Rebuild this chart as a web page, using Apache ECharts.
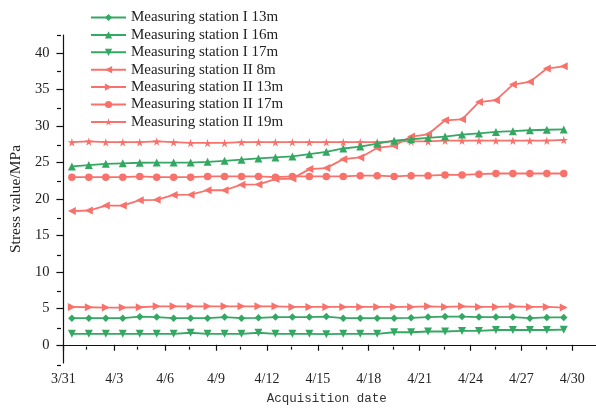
<!DOCTYPE html>
<html><head><meta charset="utf-8">
<script src="https://cdn.jsdelivr.net/npm/echarts@6/dist/echarts.min.js"></script>
<style>html,body{margin:0;padding:0;background:#fff}#c{width:596px;height:410px}</style>
</head><body><div id="c"></div>
<script>
// Day offsets from 3/31 of each acquisition
const xDays = [0.5,1.5,2.5,3.5,4.5,5.5,6.5,7.5,8.5,9.5,10.5,11.5,12.5,13.5,14.5,15.5,16.5,17.5,18.5,19.5,20.5,21.5,22.5,23.5,24.5,25.5,26.5,27.5,28.5,29.5];
const xTickDays = [0,3,6,9,12,15,18,21,24,27,30];
const xTickLabels = ['3/31','4/3','4/6','4/9','4/12','4/15','4/18','4/21','4/24','4/27','4/30'];
const xMinorDays = [1.5,4.5,7.5,10.5,13.5,16.5,19.5,22.5,25.5,28.5];
const yTicks = [0,5,10,15,20,25,30,35,40];
const yMinor = [-2.5,2.5,7.5,12.5,17.5,22.5,27.5,32.5,37.5,42.5];

const seriesNames = ['Measuring station I 13m','Measuring station I 16m','Measuring station I 17m','Measuring station II 8m','Measuring station II 13m','Measuring station II 17m','Measuring station II 19m'];
const st1_13m = [3.65,3.65,3.65,3.65,3.85,3.8,3.65,3.65,3.65,3.8,3.65,3.7,3.8,3.8,3.8,3.87,3.65,3.65,3.65,3.65,3.7,3.8,3.87,3.87,3.8,3.8,3.8,3.65,3.75,3.75];
const st1_16m = [24.47,24.65,24.83,24.9,24.97,25.0,25.0,25.0,25.1,25.24,25.4,25.56,25.7,25.84,26.15,26.47,26.93,27.2,27.6,28.0,28.2,28.38,28.57,28.84,29.0,29.2,29.3,29.43,29.5,29.55];
const st1_17m = [1.5,1.5,1.5,1.5,1.5,1.5,1.5,1.65,1.5,1.5,1.5,1.65,1.5,1.5,1.5,1.45,1.5,1.5,1.5,1.72,1.72,1.82,1.82,1.9,1.9,2.03,2.03,2.03,2.03,2.07];
const st2_8m = [18.34,18.42,19.1,19.1,19.84,19.88,20.56,20.6,21.2,21.2,21.97,22.0,22.74,22.8,24.1,24.24,25.47,25.7,27.0,27.3,28.57,28.88,30.8,30.93,33.3,33.56,35.7,36.07,37.9,38.2];
const st2_13m = [5.2,5.15,5.1,5.1,5.15,5.28,5.28,5.28,5.28,5.28,5.28,5.28,5.28,5.2,5.2,5.2,5.2,5.2,5.2,5.2,5.2,5.28,5.2,5.28,5.2,5.2,5.28,5.2,5.2,5.1];
const st2_17m = [23.0,23.0,23.0,23.0,23.1,23.0,23.0,23.0,23.1,23.1,23.1,23.1,23.0,23.1,23.1,23.1,23.1,23.2,23.2,23.1,23.2,23.2,23.3,23.3,23.4,23.5,23.5,23.5,23.5,23.5];
const st2_19m = [27.8,27.9,27.8,27.8,27.8,27.9,27.8,27.7,27.7,27.7,27.8,27.8,27.8,27.8,27.8,27.8,27.8,27.8,27.8,27.9,27.9,27.9,28.0,28.0,28.0,28.0,28.0,28.0,28.0,28.1];

const GREEN = '#34a863', RED = '#f8716b';
const STAR = 'path://M50,0 L61,35 L98,35 L68,57 L79,91 L50,70 L21,91 L32,57 L2,35 L39,35 Z';
const styles = [
  {color: GREEN, symbol: 'diamond', rot: 0, size: 7.5},
  {color: GREEN, symbol: 'triangle', rot: 0, size: 8},
  {color: GREEN, symbol: 'triangle', rot: 180, size: 8},
  {color: RED, symbol: 'triangle', rot: 90, size: 8},
  {color: RED, symbol: 'triangle', rot: -90, size: 8},
  {color: RED, symbol: 'circle', rot: 0, size: 7.5},
  {color: RED, symbol: STAR, rot: 0, size: 8.5}
];
const values = [st1_13m, st1_16m, st1_17m, st2_8m, st2_13m, st2_17m, st2_19m];

const serif = 'Liberation Serif';
const grid = {left: 61, top: 35, width: 535, height: 330};
const X_MAX = 31.4, Y_MIN = -2.5, Y_MAX = 42.5;

const chart = echarts.init(document.getElementById('c'), null, {renderer: 'canvas'});
chart.setOption({
  animation: false,
  backgroundColor: '#fff',
  legend: {
    orient: 'vertical', left: 90, top: 10, padding: 0,
    itemWidth: 35, itemHeight: 9, itemGap: 2.4,
    textStyle: {fontFamily: serif, fontSize: 15, color: '#222', lineHeight: 15},
    data: seriesNames
  },
  grid: [Object.assign({}, grid), Object.assign({}, grid)],
  xAxis: [{
    type: 'value', gridIndex: 0, min: 0, max: X_MAX,
    name: 'Acquisition date', nameLocation: 'middle', nameGap: 29,
    nameTextStyle: {fontFamily: 'Liberation Mono', fontSize: 12.5, color: '#333', padding: [0, 6, 0, 0]},
    axisLine: {show: true, lineStyle: {color: '#111', width: 1.2}},
    axisTick: {show: true, length: 6, customValues: xTickDays, lineStyle: {color: '#111', width: 1.2}},
    axisLabel: {customValues: xTickDays, margin: 9, fontFamily: serif, fontSize: 14, color: '#222',
      formatter: v => { const i = xTickDays.indexOf(v); return i >= 0 ? xTickLabels[i] : ''; }},
    splitLine: {show: false}
  }, {
    type: 'value', gridIndex: 1, min: 0, max: X_MAX,
    axisLine: {show: false},
    axisTick: {show: true, length: 3, customValues: xMinorDays, lineStyle: {color: '#111', width: 1.2}},
    axisLabel: {show: false}, splitLine: {show: false}
  }],
  yAxis: [{
    type: 'value', gridIndex: 0, min: Y_MIN, max: Y_MAX,
    name: 'Stress value/MPa', nameLocation: 'middle', nameGap: 35, nameRotate: 90,
    nameTextStyle: {fontFamily: serif, fontSize: 15.5, color: '#222'},
    axisLine: {show: true, lineStyle: {color: '#111', width: 1.2}},
    axisTick: {show: true, length: 7, customValues: yTicks, lineStyle: {color: '#111', width: 1.2}},
    axisLabel: {customValues: yTicks, margin: 14, fontFamily: serif, fontSize: 14.5, color: '#222'},
    splitLine: {show: false}
  }, {
    type: 'value', gridIndex: 1, min: Y_MIN, max: Y_MAX,
    axisLine: {show: false},
    axisTick: {show: true, length: 4, customValues: yMinor, lineStyle: {color: '#111', width: 1.2}},
    axisLabel: {show: false}, splitLine: {show: false}
  }],
  series: seriesNames.map((name, k) => ({
    name: name, type: 'line', xAxisIndex: 0, yAxisIndex: 0,
    data: xDays.map((d, i) => [d, values[k][i]]),
    symbol: styles[k].symbol, symbolSize: styles[k].size, symbolRotate: styles[k].rot,
    showAllSymbol: true,
    color: styles[k].color,
    lineStyle: {color: styles[k].color, width: 1.8},
    itemStyle: {color: styles[k].color},
    z: 10 - k
  }))
});
</script></body></html>
